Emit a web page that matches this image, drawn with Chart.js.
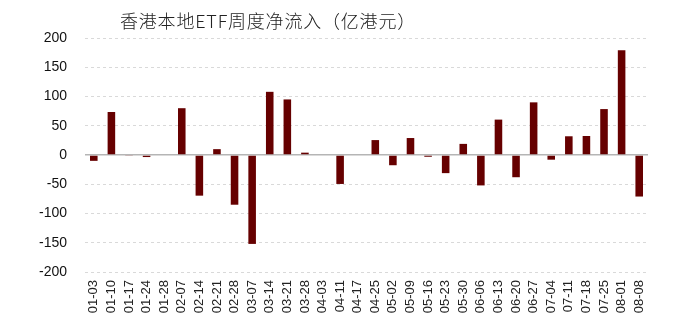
<!DOCTYPE html>
<html>
<head>
<meta charset="utf-8">
<script src="https://cdn.jsdelivr.net/npm/chart.js@4/dist/chart.umd.min.js"></script>
<style>
  html, body { margin: 0; padding: 0; background: #fff; }
  #wrap { position: relative; width: 689px; height: 326px; }
  #title {
    position: absolute; left: 120px; top: 7px;
    font-family: "Noto Sans CJK SC", sans-serif; font-size: 18px; font-weight: 300;
    color: #222; white-space: nowrap; letter-spacing: 0.8px;
  }
</style>
</head>
<body>
<div id="wrap">
  <canvas id="c" width="689" height="326"></canvas>
  <div id="title">香港本地ETF周度净流入（亿港元）</div>
</div>
<script>
// Weekly dates (MM-DD)
const weeks = ["01-03","01-10","01-17","01-24","01-28","02-07","02-14","02-21","02-28","03-07",
  "03-14","03-21","03-28","04-03","04-11","04-17","04-25","05-02","05-09","05-16",
  "05-23","05-30","06-06","06-13","06-20","06-27","07-04","07-11","07-18","07-25",
  "08-01","08-08"];

// Net inflow, HKD 100m
const netInflow = [-10, 73.5, -1, -3.5, 0, 80, -69.5, 10, -85, -152,
  108, 95, 4, 0, -49.5, 0, 25.5, -17.5, 29, -3,
  -31, 19, -52, 60.5, -38, 90, -8, 32, 32.5, 78.5,
  179, -71];

// Y-axis range and tick step
const yMin = -200, yMax = 200, yStep = 50;

new Chart(document.getElementById('c'), {
  type: 'bar',
  data: {
    labels: weeks,
    datasets: [{
      data: netInflow,
      backgroundColor: '#660000',
      borderWidth: 0,
      categoryPercentage: 1,
      barPercentage: 0.43
    }]
  },
  options: {
    responsive: false,
    animation: false,
    layout: { padding: { top: 38, right: 41, left: 0, bottom: 0 } },
    plugins: { legend: { display: false }, tooltip: { enabled: false }, title: { display: false } },
    scales: {
      x: {
        grid: { display: false, drawTicks: false },
        border: { display: false },
        ticks: {
          autoSkip: false, minRotation: 90, maxRotation: 90, padding: 8,
          color: '#222', font: { family: 'Liberation Sans, Arial, sans-serif', size: 13 }
        },
        afterFit: s => { s.height = 54; }
      },
      y: {
        min: yMin, max: yMax,
        grid: {
          drawTicks: false,
          color: c => c.tick && c.tick.value === 0 ? '#b5b5b5' : '#d9d9d9',
          lineWidth: c => c.tick && c.tick.value === 0 ? 1.5 : 1
        },
        border: {
          display: false,
          dash: c => c.tick && c.tick.value === 0 ? [] : [3, 3]
        },
        ticks: {
          stepSize: yStep, padding: 18,
          color: '#111', font: { family: 'Liberation Sans, Arial, sans-serif', size: 14 }
        },
        afterFit: s => { s.width = 85; }
      }
    }
  }
});
</script>
</body>
</html>
